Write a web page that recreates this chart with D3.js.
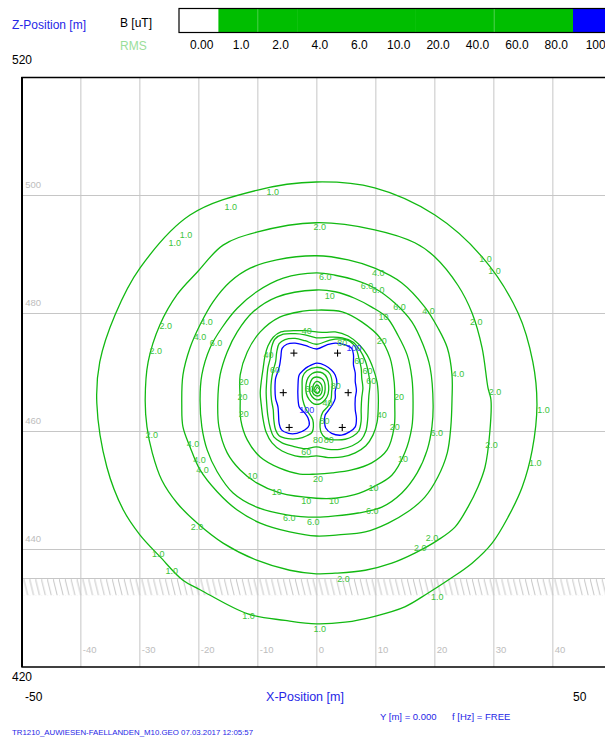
<!DOCTYPE html>
<html>
<head>
<meta charset="utf-8">
<script src="https://cdn.jsdelivr.net/npm/d3@7"></script>
<style>
  body { margin: 0; background: #fff; }
  text { font-family: "Liberation Sans", Arial, sans-serif; }
</style>
</head>
<body>
<svg id="chart" width="605" height="740"></svg>
<script>
// ---- axis ticks (m) ----
const xTicks = [-40, -30, -20, -10, 0, 10, 20, 30, 40];
const zTicks = [440, 460, 480, 500];
const groundZ = 435;

// ---- colour legend (B [uT], RMS) ----
const legendLevels = ["0.00", "1.0", "2.0", "4.0", "6.0", "10.0", "20.0", "40.0", "60.0", "80.0", "100"];
const legendColors = ["#ffffff", "#00be00", "#00be00", "#00be00", "#00be00", "#00be00", "#00be00", "#00be00", "#00be00", "#00be00", "#0000ff"];

// ---- conductor positions [X, Z] in m ----
const conductors = [[-3.8, 473.2], [3.6, 473.2], [-5.6, 466.5], [5.4, 466.5], [-4.6, 460.6], [4.4, 460.6]];

// ---- iso-lines of B [uT], points [X, Z] in m ----
const iso1 = [[0.0,502.2],[9.9,501.2],[20.1,496.6],[28.1,489.5],[34.2,480.0],[36.7,471.7],[37.4,464.4],[36.6,456.8],[34.9,450.5],[32.5,445.4],[29.8,441.0],[26.4,437.6],[22.3,434.7],[18.9,432.5],[15.0,430.2],[9.9,428.6],[4.9,427.6],[0.0,427.3],[-5.3,427.9],[-11.6,429.0],[-19.7,433.1],[-22.6,434.7],[-26.5,438.7],[-29.9,442.4],[-32.7,446.6],[-35.5,453.9],[-37.2,464.7],[-36.7,471.7],[-34.1,479.7],[-29.9,487.6],[-21.4,496.6],[-10.1,500.8]];
const iso2 = [[0.0,495.3],[9.9,494.1],[16.7,491.9],[20.1,489.5],[24.0,484.7],[26.4,480.0],[28.1,474.1],[29.1,467.3],[29.6,465.3],[29.4,459.7],[28.6,453.9],[27.4,450.5],[25.7,447.1],[23.5,443.7],[20.6,441.5],[16.7,439.3],[12.8,437.6],[8.3,436.4],[3.2,435.9],[0.0,435.8],[-4.5,436.4],[-10.1,438.1],[-15.8,441.0],[-20.2,444.4],[-23.6,447.8],[-26.2,451.7],[-27.8,456.3],[-28.7,460.7],[-29.0,465.3],[-28.5,471.7],[-26.5,478.0],[-23.6,483.1],[-20.2,486.9],[-15.8,491.5],[-10.1,493.7]];
const iso4 = [[0.0,489.7],[5.4,489.0],[9.9,487.6],[14.5,485.1],[18.4,481.0],[20.6,477.5],[22.2,474.1],[23.0,469.5],[23.0,465.3],[22.8,460.7],[22.2,456.3],[20.6,452.2],[18.4,448.8],[15.5,446.3],[12.2,444.4],[8.3,442.9],[3.7,442.4],[0.0,442.2],[-4.5,442.9],[-9.5,444.4],[-13.4,446.6],[-16.8,449.7],[-19.7,453.4],[-21.4,457.3],[-22.6,460.7],[-22.8,464.4],[-22.6,469.5],[-21.4,474.1],[-19.7,478.0],[-17.5,481.9],[-14.6,485.3],[-11.2,487.6],[-6.7,489.0]];
const iso6 = [[0.0,486.8],[3.2,486.4],[6.5,485.6],[9.9,484.2],[13.3,481.7],[16.2,478.5],[18.1,474.6],[19.3,470.7],[19.8,464.4],[19.6,460.7],[18.8,456.8],[17.1,452.9],[14.5,449.5],[11.1,447.1],[7.1,446.1],[3.2,445.6],[0.0,445.4],[-5.0,445.8],[-10.1,447.1],[-14.1,449.5],[-16.8,453.1],[-18.5,456.8],[-19.4,460.7],[-19.7,465.3],[-19.4,469.5],[-18.0,474.1],[-16.0,477.5],[-13.4,480.8],[-10.1,483.6],[-5.6,485.9]];
const iso10 = [[0.0,483.9],[3.2,483.6],[6.5,482.5],[9.4,481.0],[12.0,479.2],[13.8,476.3],[15.4,472.9],[16.2,469.0],[16.4,464.4],[16.2,460.7],[15.0,456.3],[12.8,452.5],[9.6,450.5],[6.5,449.2],[3.2,448.6],[0.0,448.6],[-6.2,449.5],[-10.1,451.2],[-12.9,453.4],[-15.1,456.3],[-16.5,460.7],[-16.7,464.9],[-16.3,469.5],[-15.1,473.4],[-13.4,476.8],[-10.7,480.2],[-6.7,482.7]];
const iso20 = [[0.0,480.5],[4.4,480.2],[7.7,478.5],[10.8,475.8],[12.5,472.4],[13.2,468.3],[13.3,464.4],[13.2,460.7],[12.0,456.8],[9.4,454.6],[6.0,453.4],[2.7,452.9],[0.0,452.7],[-2.8,452.7],[-6.2,453.7],[-9.5,455.6],[-11.7,458.5],[-12.8,461.9],[-12.9,465.3],[-12.9,469.5],[-11.7,473.4],[-9.5,476.8],[-6.2,479.3],[-2.3,480.3]];
const iso40 = [[0.0,476.8],[1.5,476.7],[3.2,476.8],[5.4,476.1],[7.2,474.7],[8.6,472.9],[9.6,470.7],[10.3,468.3],[10.5,466.1],[10.5,463.9],[10.3,461.5],[9.6,459.3],[8.4,457.5],[6.6,456.3],[4.4,455.6],[2.0,455.5],[0.0,455.8],[-1.7,455.6],[-3.6,455.8],[-5.8,456.6],[-7.5,458.0],[-8.5,459.8],[-9.0,461.9],[-9.3,464.2],[-9.5,466.4],[-9.3,468.6],[-9.0,470.7],[-8.7,472.7],[-8.2,474.4],[-7.3,475.9],[-6.0,476.8],[-3.9,477.0],[-1.9,477.0]];
const iso60 = [[0.0,475.8],[2.3,475.9],[4.4,475.8],[6.2,475.1],[7.4,473.7],[8.3,471.9],[8.8,470.0],[9.1,468.0],[8.9,465.9],[8.8,463.9],[8.7,461.9],[8.4,460.0],[7.6,458.5],[6.1,457.5],[4.0,456.9],[2.0,456.9],[0.0,457.3],[-1.9,457.0],[-3.9,457.4],[-5.8,458.0],[-7.2,459.0],[-7.8,460.5],[-8.2,462.5],[-8.4,464.6],[-8.5,466.6],[-8.4,468.6],[-8.2,470.7],[-7.8,472.4],[-7.6,474.1],[-7.0,475.6],[-5.6,476.4],[-3.6,476.5],[-1.9,476.3]];
const iso80 = [[0.0,474.7],[-1.9,475.3],[-3.6,475.7],[-5.3,475.5],[-6.3,474.8],[-6.7,473.4],[-6.9,471.7],[-7.3,470.3],[-7.6,468.6],[-7.7,467.0],[-7.6,465.3],[-7.3,463.6],[-7.2,461.9],[-6.9,460.2],[-6.3,459.2],[-4.8,458.7],[-3.1,458.7],[-1.6,459.2],[-0.7,459.8],[-0.6,461.9],[-1.7,463.6],[-2.3,465.3],[-2.4,467.3],[-2.3,469.2],[-1.6,470.2],[0.0,470.8],[1.5,470.4],[2.3,469.7],[2.7,468.1],[2.6,466.6],[2.5,465.4],[2.0,464.2],[1.1,463.2],[0.7,461.9],[0.8,459.8],[1.6,458.8],[3.2,458.5],[4.9,458.6],[6.2,459.1],[7.2,460.0],[7.6,461.7],[7.6,463.6],[7.7,465.6],[7.9,467.3],[7.7,469.0],[7.6,470.7],[7.2,472.4],[6.7,474.1],[5.7,475.2],[4.0,475.6],[2.3,475.4]];
const iso100 = [[0.1,473.9],[-1.9,474.5],[-3.6,474.9],[-5.0,474.7],[-5.8,474.0],[-6.0,472.6],[-6.2,471.2],[-6.5,470.1],[-6.9,468.9],[-7.0,467.2],[-6.9,465.5],[-6.5,464.1],[-6.4,462.7],[-6.3,461.3],[-5.9,460.2],[-4.7,459.6],[-3.3,459.6],[-1.9,460.2],[-1.2,461.0],[-1.4,462.2],[-1.9,463.0],[-2.5,463.6],[-2.9,464.1],[-3.1,465.5],[-3.1,467.8],[-2.9,469.5],[-2.2,470.3],[-1.4,470.9],[0.1,471.5],[1.5,471.1],[2.6,470.3],[3.2,469.5],[3.5,468.1],[3.2,466.7],[3.2,465.5],[2.7,464.4],[2.0,463.4],[1.5,462.7],[1.4,461.6],[1.6,460.5],[2.6,459.6],[4.3,459.3],[5.7,459.9],[6.6,460.7],[6.8,462.2],[6.6,463.6],[6.6,465.5],[6.8,466.9],[6.6,468.4],[6.6,469.8],[6.3,471.2],[6.3,472.9],[6.0,474.0],[4.9,474.6],[3.2,474.9],[1.8,474.6]];
// small closed lines round the field minimum between the circuits
const core60 = [[0.1,470.0],[1.1,469.8],[1.8,469.0],[2.1,467.6],[2.0,466.3],[1.5,465.3],[0.6,464.6],[-0.4,464.6],[-1.2,465.3],[-1.7,466.4],[-1.75,467.8],[-1.4,469.0],[-0.7,469.75]];
const core40 = [[0.1,469.15],[0.9,468.9],[1.4,468.2],[1.5,467.1],[1.3,466.1],[0.7,465.4],[-0.05,465.3],[-0.7,465.8],[-1.1,466.6],[-1.15,467.6],[-0.9,468.5],[-0.5,469.0]];
const core20 = [[0.1,468.4],[0.7,468.1],[1.0,467.4],[0.9,466.5],[0.5,466.0],[-0.1,466.0],[-0.6,466.5],[-0.6,467.4],[-0.4,468.0]];
const core10 = [[0.1,467.8],[0.5,467.5],[0.6,466.9],[0.3,466.4],[-0.1,466.5],[-0.4,466.95],[-0.2,467.5]];
const core6 = [[0.2,467.5],[0.6,466.9],[0.2,466.35],[-0.2,466.9]];

// ---- line labels [text, X, Z] ----
const labels1 = [["1.0",-7.4,500.5],["1.0",-14.5,497.9],["1.0",-22.1,493.3],["1.0",-24.0,491.9],["1.0",28.7,489.1],["1.0",30.2,487.2],["1.0",38.5,463.6],["1.0",37.1,454.6],["1.0",-26.8,439.2],["1.0",-24.5,436.3],["1.0",-11.5,428.6],["1.0",0.6,426.4],["1.0",20.5,431.9]];
const labels2 = [["2.0",0.6,494.5],["2.0",-25.5,477.8],["2.0",-27.2,473.6],["2.0",27.1,478.5],["2.0",30.3,466.6],["2.0",29.7,457.6],["2.0",-27.9,459.4],["2.0",-20.2,443.8],["2.0",19.6,441.8],["2.0",17.6,440.1],["2.0",4.6,434.9]];
const labels4 = [["4.0",10.5,486.7],["4.0",19.0,480.3],["4.0",24.0,469.6],["4.0",-18.6,478.5],["4.0",-19.7,475.9],["4.0",-20.9,457.8],["4.0",-19.8,455.1],["4.0",-19.3,453.4]];
const labels6 = [["6.0",1.5,486.1],["6.0",8.6,484.6],["6.0",10.5,483.9],["6.0",14.1,481.0],["6.0",-17.0,474.9],["6.0",20.4,459.6],["6.0",9.5,446.5],["6.0",-4.6,445.3],["6.0",-0.5,444.6]];
const labels10 = [["10",2.3,482.9],["10",11.4,479.3],["10",14.7,455.2],["10",9.7,450.3],["10",3.0,448.2],["10",-10.8,452.4],["10",-6.7,449.6],["10",-1.7,448.2]];
const labels20 = [["20",-12.3,468.3],["20",-12.5,465.8],["20",-12.3,462.9],["20",11.1,475.3],["20",14.0,465.8],["20",13.3,460.7],["20",0.3,451.8]];
const labels40 = [["40",-1.6,477.0],["40",-8.1,472.8],["40",11.1,462.7],["40",1.9,464.7]];
const labels60 = [["60",-7.0,470.3],["60",7.3,471.8],["60",8.7,470.2],["60",9.3,468.5],["60",-1.7,456.5],["60",-1.1,467.2]];
const labels80 = [["80",4.4,474.9],["80",3.3,467.6],["80",1.4,461.7],["80",0.3,458.4],["80",2.1,458.4]];
const labels100 = [["100",6.4,474.0],["100",-1.6,463.6]];

// ---- texts ----
const footerFile = "TR1210_AUWIESEN-FAELLANDEN_M10.GEO  07.03.2017  12:05:57";

// ------------------------------------------------------------
const GREEN = "#12b912", GREEN_TXT = "#3cc43c", BLUE = "#0000ff", TXT_BLUE = "#2626e6";
const svg = d3.select("#chart");
svg.append("rect").attr("width", 605).attr("height", 740).attr("fill", "#fff");

const x = d3.scaleLinear().domain([-50, 50]).range([21.3, 611.3]);
const z = d3.scaleLinear().domain([420, 520]).range([667, 77]);
const plotW = x(50) - x(-50), plotH = z(420) - z(520);

const defs = svg.append("defs");
defs.append("clipPath").attr("id", "plotClip")
  .append("rect").attr("x", x(-50)).attr("y", z(520)).attr("width", plotW).attr("height", plotH);
const hatch = defs.append("pattern").attr("id", "hatch").attr("patternUnits", "userSpaceOnUse")
  .attr("x", 0).attr("y", z(groundZ)).attr("width", 5.9).attr("height", 17);
hatch.append("line").attr("x1", 0).attr("y1", 0).attr("x2", 4.2).attr("y2", 17)
  .attr("stroke", "#c4c4c4").attr("stroke-width", 1);

const plot = svg.append("g").attr("clip-path", "url(#plotClip)");

// grid through the axes
const gx = plot.append("g").attr("transform", `translate(0,${z(420)})`)
  .call(d3.axisBottom(x).tickValues(xTicks).tickSize(-plotH).tickFormat(d => String(d)));
gx.select(".domain").remove();
gx.selectAll(".tick line").attr("stroke", "#d6d6d6").attr("stroke-width", 1.4);
gx.selectAll(".tick text").attr("x", 2).attr("y", -14).attr("dy", null)
  .attr("text-anchor", "start").attr("fill", "#bdbdbd").attr("font-size", 9.5)
  .attr("font-family", "Liberation Sans, Arial, sans-serif");

const gz = plot.append("g").attr("transform", `translate(${x(-50)},0)`)
  .call(d3.axisLeft(z).tickValues(zTicks).tickSize(-plotW).tickFormat(d => String(d)));
gz.select(".domain").remove();
gz.selectAll(".tick line").attr("stroke", "#c6c6c6").attr("stroke-width", 1);
gz.selectAll(".tick text").attr("x", 4).attr("y", -8).attr("dy", null)
  .attr("text-anchor", "start").attr("fill", "#bdbdbd").attr("font-size", 9.5)
  .attr("font-family", "Liberation Sans, Arial, sans-serif");

// ground
plot.append("rect").attr("x", x(-50)).attr("y", z(groundZ)).attr("width", plotW).attr("height", 17)
  .attr("fill", "url(#hatch)");
plot.append("line").attr("x1", x(-50)).attr("x2", x(50)).attr("y1", z(groundZ)).attr("y2", z(groundZ))
  .attr("stroke", "#c6c6c6").attr("stroke-width", 1.2);

// iso-lines
const line = d3.line().x(d => x(d[0])).y(d => z(d[1])).curve(d3.curveCatmullRomClosed.alpha(0.5));
const isoLines = [
  { level: 1, pts: iso1 }, { level: 2, pts: iso2 }, { level: 4, pts: iso4 }, { level: 6, pts: iso6 },
  { level: 10, pts: iso10 }, { level: 20, pts: iso20 }, { level: 40, pts: iso40 }, { level: 60, pts: iso60 },
  { level: 80, pts: iso80 }, { level: 100, pts: iso100 },
  { level: 60, pts: core60 }, { level: 40, pts: core40 }, { level: 20, pts: core20 }, { level: 10, pts: core10 }
];
plot.append("g").selectAll("path").data(isoLines).join("path")
  .attr("d", d => line(d.pts))
  .attr("fill", "none")
  .attr("stroke", d => d.level >= 100 ? BLUE : GREEN)
  .attr("stroke-width", 1.3)
  .attr("stroke-linejoin", "round");
plot.append("path").attr("d", d3.line().x(d => x(d[0])).y(d => z(d[1])).curve(d3.curveLinearClosed)(core6))
  .attr("fill", "none").attr("stroke", GREEN).attr("stroke-width", 1);

// labels
const allLabels = [].concat(labels1, labels2, labels4, labels6, labels10, labels20, labels40, labels60, labels80, labels100);
plot.append("g").selectAll("text").data(allLabels).join("text")
  .attr("x", d => x(d[1])).attr("y", d => z(d[2]))
  .attr("text-anchor", "middle").attr("dominant-baseline", "central")
  .attr("font-size", 9).attr("fill", d => d[0] === "100" ? "#3535ff" : GREEN_TXT)
  .text(d => d[0]);

// conductors
const plus = plot.append("g").selectAll("g").data(conductors).join("g")
  .attr("transform", d => `translate(${x(d[0])},${z(d[1])})`);
plus.append("line").attr("x1", -3.5).attr("x2", 3.5).attr("stroke", "#000").attr("stroke-width", 1.1);
plus.append("line").attr("y1", -3.5).attr("y2", 3.5).attr("stroke", "#000").attr("stroke-width", 1.1);

// frame
svg.append("line").attr("x1", x(-50) + 0.7).attr("x2", x(-50) + 0.7).attr("y1", z(520)).attr("y2", z(420))
  .attr("stroke", "#000").attr("stroke-width", 2);
svg.append("line").attr("x1", x(-50)).attr("x2", 605).attr("y1", z(520) + 0.5).attr("y2", z(520) + 0.5)
  .attr("stroke", "#000").attr("stroke-width", 1.3);
svg.append("line").attr("x1", x(-50)).attr("x2", 605).attr("y1", z(420)).attr("y2", z(420))
  .attr("stroke", "#000").attr("stroke-width", 1.6);

// colour legend
const band = d3.scaleBand().domain(legendLevels).range([179, 179 + 11 * 39.4]).padding(0);
const leg = svg.append("g");
leg.selectAll("rect.seg").data(legendLevels).join("rect").attr("class", "seg")
  .attr("x", d => band(d)).attr("y", 8.5).attr("width", band.bandwidth() + 0.5).attr("height", 24)
  .attr("fill", (d, i) => legendColors[i]);
leg.selectAll("line.sep").data(["2.0", "60.0"]).join("line").attr("class", "sep")
  .attr("x1", d => band(d)).attr("x2", d => band(d)).attr("y1", 9).attr("y2", 32)
  .attr("stroke", "#5fd35f").attr("stroke-width", 0.8);
leg.append("rect").attr("x", 179).attr("y", 8.5).attr("width", 11 * 39.4).attr("height", 24)
  .attr("fill", "none").attr("stroke", "#000").attr("stroke-width", 1.2);
leg.selectAll("text").data(legendLevels).join("text")
  .attr("x", d => band(d) + band.bandwidth() / 2 + 3).attr("y", 48.5)
  .attr("text-anchor", "middle").attr("font-size", 12).attr("fill", "#000").text(d => d);

// titles and corner values
svg.append("text").attr("x", 12).attr("y", 29).attr("font-size", 12).attr("fill", TXT_BLUE).text("Z-Position [m]");
svg.append("text").attr("x", 120).attr("y", 27).attr("font-size", 12).attr("fill", "#000").text("B [uT]");
svg.append("text").attr("x", 120).attr("y", 50).attr("font-size", 12).attr("fill", "#9ade9a").text("RMS");
svg.append("text").attr("x", 12).attr("y", 64).attr("font-size", 12).attr("fill", "#000").text("520");
svg.append("text").attr("x", 12).attr("y", 681).attr("font-size", 12).attr("fill", "#000").text("420");
svg.append("text").attr("x", 25).attr("y", 701).attr("font-size", 12).attr("fill", "#000").text("-50");
svg.append("text").attr("x", 573).attr("y", 701).attr("font-size", 12).attr("fill", "#000").text("50");
svg.append("text").attr("x", 305).attr("y", 701).attr("text-anchor", "middle").attr("font-size", 12.5)
  .attr("fill", TXT_BLUE).text("X-Position [m]");
svg.append("text").attr("x", 380).attr("y", 720).attr("font-size", 9.5).attr("fill", TXT_BLUE).text("Y [m] = 0.000");
svg.append("text").attr("x", 452).attr("y", 720).attr("font-size", 9.5).attr("fill", TXT_BLUE).text("f [Hz] = FREE");
svg.append("text").attr("x", 12).attr("y", 735).attr("font-size", 8).attr("fill", TXT_BLUE)
  .attr("textLength", 241).attr("lengthAdjust", "spacingAndGlyphs").text(footerFile);
</script>
</body>
</html>
